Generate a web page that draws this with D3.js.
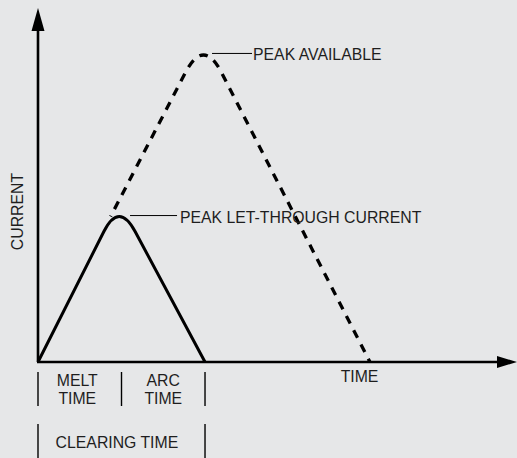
<!DOCTYPE html>
<meta charset="utf-8">
<style>
body { margin: 0; background: #e6e7e8; }
svg { display: block; background: #e6e7e8; }
text {
  font: 15.8px Arial, "Liberation Sans", sans-serif;
  fill: #1e1e1e;
}
.axis { stroke: #000; stroke-width: 2.6px; fill: none; }
.arrow { fill: #000; }
.letthrough { stroke: #000; stroke-width: 3px; fill: none; stroke-linejoin: round; }
.available { stroke: #000; stroke-width: 3.3px; fill: none; }
.leader { stroke: #000; stroke-width: 1px; }
.span { stroke: #000; stroke-width: 1.4px; }
</style>
<svg width="517" height="458"></svg>
<script src="https://d3js.org/d3.v7.min.js"></script>
<script>

// time in "units" where melt time ends at 1 and clearing time at 2
var timeMax = 5.736,
    currentMax = 11.53;

// [time, current]: start, cap start, apex (control), cap end, end
var letThrough = [[0, 0], [0.789, 4.25], [0.970, 5.23], [1.163, 4.25], [2, 0]];
var available  = [[0.87, 4.74], [1.768, 9.44], [1.982, 10.56], [2.195, 9.44], [3.975, 0]];

var spanTicks = [0, 1, 2];
var spanLabels = [
  {t: 0.47, lines: ["MELT", "TIME"]},
  {t: 1.5, lines: ["ARC", "TIME"]}
];
var clearing = {t: 0.945, text: "CLEARING TIME"};

var dash = 8.5, gap = 7.5;

var svg = d3.select("svg"),
    x = d3.scaleLinear().domain([0, timeMax]).range([38, 517]),
    y = d3.scaleLinear().domain([0, currentMax]).range([362, 8]);

var x0 = x(0), y0 = y(0);

// axes with arrow heads
svg.append("line").attr("class", "axis")
    .attr("x1", x0).attr("y1", y0).attr("x2", x0).attr("y2", y(currentMax) + 20);
svg.append("path").attr("class", "arrow")
    .attr("d", "M" + x0 + "," + y(currentMax) + "L" + (x0 - 6.5) + "," + (y(currentMax) + 23) + "L" + (x0 + 6.5) + "," + (y(currentMax) + 23) + "Z");

svg.append("line").attr("class", "axis")
    .attr("x1", x0 - 1).attr("y1", y0).attr("x2", x(timeMax) - 18).attr("y2", y0);
svg.append("path").attr("class", "arrow")
    .attr("d", "M" + x(timeMax) + "," + y0 + "L" + (x(timeMax) - 20) + "," + (y0 - 6) + "L" + (x(timeMax) - 20) + "," + (y0 + 6) + "Z");

var capPath = function(pts) {
  var p = d3.path();
  p.moveTo(x(pts[0][0]), y(pts[0][1]));
  p.lineTo(x(pts[1][0]), y(pts[1][1]));
  p.quadraticCurveTo(x(pts[2][0]), y(pts[2][1]), x(pts[3][0]), y(pts[3][1]));
  p.lineTo(x(pts[4][0]), y(pts[4][1]));
  return p.toString();
}

// length from start to the top of the cap (first half of the quadratic)
var halfPath = function(pts) {
  var p = d3.path(),
      ax = x(pts[1][0]), ay = y(pts[1][1]),
      cx = x(pts[2][0]), cy = y(pts[2][1]),
      bx = x(pts[3][0]), by = y(pts[3][1]),
      mx = (ax + 2 * cx + bx) / 4, my = (ay + 2 * cy + by) / 4;
  p.moveTo(x(pts[0][0]), y(pts[0][1]));
  p.lineTo(ax, ay);
  p.quadraticCurveTo((ax + cx) / 2, (ay + cy) / 2, mx, my);
  return p.toString();
}

var tmp = svg.append("path").attr("d", halfPath(available)).attr("fill", "none");
var toTop = tmp.node().getTotalLength();
tmp.remove();
var period = dash + gap,
    offset = period - (((toTop - dash / 2) % period) + period) % period;

svg.append("path").attr("class", "available").attr("d", capPath(available))
    .attr("stroke-dasharray", dash + "," + gap)
    .attr("stroke-dashoffset", offset);
svg.append("path").attr("class", "letthrough").attr("d", capPath(letThrough));

// leader lines + labels
svg.append("line").attr("class", "leader")
    .attr("x1", x(2.084)).attr("x2", x(2.563)).attr("y1", y(10.05)).attr("y2", y(10.05));
svg.append("text").attr("x", x(2.575)).attr("y", y(10.05)).attr("dy", "0.4em").text("PEAK AVAILABLE");

svg.append("line").attr("class", "leader")
    .attr("x1", x(1.102)).attr("x2", x(1.665)).attr("y1", y(4.77)).attr("y2", y(4.77));
svg.append("text").attr("x", x(1.70)).attr("y", y(4.77)).attr("dy", "0.45em").text("PEAK LET-THROUGH CURRENT");

// axis titles
svg.append("text").attr("x", x(3.85)).attr("y", y0 + 20).attr("text-anchor", "middle").text("TIME");
svg.append("text").attr("transform", "translate(23," + y(4.9) + ") rotate(-90)")
    .attr("text-anchor", "middle").text("CURRENT");

// melt / arc / clearing spans
svg.selectAll(".span.top").data(spanTicks).enter().append("line")
    .attr("class", "span top")
    .attr("x1", function(d) { return x(d); }).attr("x2", function(d) { return x(d); })
    .attr("y1", y0 + 10).attr("y2", y0 + 44);

svg.selectAll(".span.bottom").data([spanTicks[0], spanTicks[2]]).enter().append("line")
    .attr("class", "span bottom")
    .attr("x1", function(d) { return x(d); }).attr("x2", function(d) { return x(d); })
    .attr("y1", y0 + 62).attr("y2", y0 + 100);

spanLabels.forEach(function(l) {
  l.lines.forEach(function(s, i) {
    svg.append("text").attr("x", x(l.t)).attr("y", y0 + 24 + i * 18)
        .attr("text-anchor", "middle").text(s);
  });
});

svg.append("text").attr("x", x(clearing.t)).attr("y", y0 + 86)
    .attr("text-anchor", "middle").text(clearing.text);

</script>
